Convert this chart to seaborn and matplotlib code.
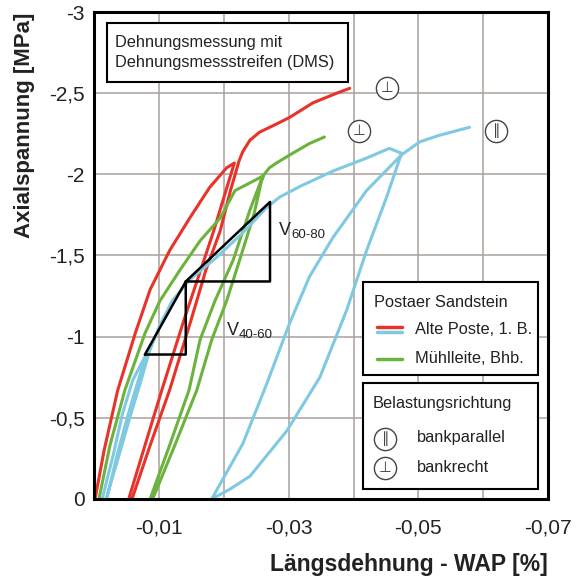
import numpy as np
import seaborn as sns
import matplotlib
matplotlib.use('Agg')
import matplotlib.pyplot as plt
from matplotlib.patches import Rectangle

# Postaer Sandstein, Alte Poste, 1. B. - senkrecht zur Bank (rot)
red_strain = [-0.0001, -0.0015, -0.0036, -0.0063, -0.0086, -0.0116, -0.0147, -0.0178, -0.0204, -0.0216,
              -0.0203, -0.0184, -0.0164, -0.0138, -0.0104, -0.0078, -0.0053,
              -0.0058, -0.0086, -0.0116, -0.0149, -0.0172, -0.0194, -0.0210, -0.0218, -0.0223, -0.0229,
              -0.0240, -0.0255, -0.0281, -0.0301, -0.0337, -0.0374, -0.0394]
red_stress = [0, -0.30, -0.67, -1.02, -1.29, -1.53, -1.73, -1.92, -2.04, -2.07,
              -1.90, -1.65, -1.41, -1.10, -0.67, -0.33, 0,
              0, -0.33, -0.67, -1.10, -1.41, -1.65, -1.90, -2.01, -2.08, -2.14,
              -2.21, -2.26, -2.31, -2.35, -2.44, -2.50, -2.53]

# Postaer Sandstein, Alte Poste, 1. B. - parallel zur Bank (blau)
blue_strain = [-0.0012, -0.0029, -0.0043, -0.0059, -0.0081,
               -0.0070, -0.0052, -0.0035, -0.0019,
               -0.0018, -0.0038, -0.0056, -0.0072, -0.0084, -0.0101, -0.0120, -0.0147, -0.0189,
               -0.0229, -0.0267, -0.0286, -0.0317, -0.0368, -0.0420, -0.0455, -0.0474,
               -0.0451, -0.0420, -0.0389, -0.0348, -0.0297, -0.0240, -0.0209, -0.0181,
               -0.0229, -0.0266, -0.0301, -0.0332, -0.0368, -0.0420, -0.0474, -0.0502, -0.0532, -0.0579]
blue_stress = [0, -0.27, -0.52, -0.73, -0.90,
               -0.76, -0.52, -0.27, 0,
               0, -0.27, -0.52, -0.73, -0.90, -1.07, -1.22, -1.35, -1.49,
               -1.64, -1.80, -1.86, -1.925, -2.02, -2.10, -2.16, -2.13,
               -1.86, -1.53, -1.16, -0.75, -0.42, -0.14, -0.06, 0,
               -0.34, -0.71, -1.08, -1.37, -1.61, -1.90, -2.12, -2.20, -2.24, -2.29]

# Muehlleite, Bhb. - senkrecht zur Bank (gruen)
green_strain = [-0.0007, -0.0024, -0.0047, -0.0078, -0.0101, -0.0132, -0.0163, -0.0194, -0.0217, -0.0251, -0.0260,
                -0.0240, -0.0214, -0.0186, -0.0163, -0.0146, -0.0116, -0.0086,
                -0.0090, -0.0124, -0.0158, -0.0181, -0.0204, -0.0224, -0.0246, -0.0258,
                -0.0262, -0.0270, -0.0281, -0.0306, -0.0332, -0.0355]
green_stress = [0, -0.33, -0.67, -1.02, -1.22, -1.41, -1.59, -1.73, -1.90, -1.97, -1.99,
                -1.78, -1.47, -1.22, -0.98, -0.67, -0.33, 0,
                0, -0.33, -0.67, -0.98, -1.22, -1.47, -1.75, -1.96,
                -2.00, -2.04, -2.07, -2.13, -2.19, -2.23]

# Sekantensteigungen V40-60 und V60-80
v40_strain = [-0.0078, -0.0141, -0.0141, -0.0078]
v40_stress = [-0.89, -1.34, -0.89, -0.89]
v60_strain = [-0.0141, -0.0271, -0.0271, -0.0141]
v60_stress = [-1.34, -1.83, -1.34, -1.34]

x_ticks = [0, -0.01, -0.02, -0.03, -0.04, -0.05, -0.06, -0.07]
x_labels = ['', '-0,01', '', '-0,03', '', '-0,05', '', '-0,07']
y_ticks = [0, -0.5, -1, -1.5, -2, -2.5, -3]
y_labels = ['0', '-0,5', '-1', '-1,5', '-2', '-2,5', '-3']

RED = '#e8332a'
BLUE = '#7fc9e2'
GREEN = '#6cb33e'
LW = 2.2

sns.set_theme(style='white')
plt.rcParams['font.family'] = ['Liberation Sans', 'DejaVu Sans']

fig = plt.figure(figsize=(5.77, 5.83), dpi=100)
ax = fig.add_axes([0.1636, 0.1441, 0.7861, 0.8353])

sns.lineplot(x=red_strain, y=red_stress, sort=False, estimator=None, color=RED, lw=LW, ax=ax)
sns.lineplot(x=green_strain, y=green_stress, sort=False, estimator=None, color=GREEN, lw=LW, ax=ax)
sns.lineplot(x=blue_strain, y=blue_stress, sort=False, estimator=None, color=BLUE, lw=LW, ax=ax)

ax.plot(v40_strain, v40_stress, color='black', lw=1.8, zorder=4)
ax.plot(v60_strain, v60_stress, color='black', lw=1.8, zorder=4)

ax.text(-0.0285, -1.624, 'V', fontsize=13, color='#222', va='baseline')
ax.text(-0.0304, -1.605, '60-80', fontsize=9.5, color='#222', va='baseline')
ax.text(-0.0205, -1.009, 'V', fontsize=13, color='#222', va='baseline')
ax.text(-0.0223, -0.990, '40-60', fontsize=9.5, color='#222', va='baseline')

ax.set_xlim(0, -0.07)
ax.set_ylim(0, -3)
ax.set_xticks(x_ticks)
ax.set_xticklabels(x_labels)
ax.set_yticks(y_ticks)
ax.set_yticklabels(y_labels)
ax.tick_params(axis='both', direction='out', length=5, width=1, color='#8a8480',
               labelsize=15, labelcolor='#222')
ax.tick_params(axis='x', pad=9)
ax.tick_params(axis='y', pad=2)
ax.grid(True, color='#a9a19c', lw=1.1)
ax.set_axisbelow(True)
for s in ax.spines.values():
    s.set_visible(True)
    s.set_color('black')
    s.set_linewidth(2.2)
ax.set_xlabel('')
ax.set_ylabel('')

fig.text(25 / 577, 1 - 13 / 583, 'Axialspannung [MPa]', rotation=90, ha='center', va='top',
         fontsize=16, fontweight='bold', color='#222')
fig.text(548 / 577, 1 - 571 / 583, 'Längsdehnung - WAP [%]', ha='right', va='baseline',
         fontsize=16.5, fontweight='bold', color='#222')


def symbol(x, y, glyph, trans, size=10.5):
    ax.plot([x], [y], marker='o', ms=16, mfc='white', mec='#444', mew=1.0,
            transform=trans, clip_on=False, zorder=7)
    ax.text(x, y, glyph, transform=trans, ha='center', va='center', fontsize=size,
            color='#444', family=['DejaVu Sans'], zorder=8)


# Kennzeichnung der Kurven
symbol(-0.0451, -2.534, '⊥', ax.transData)
symbol(-0.0408, -2.269, '⊥', ax.transData)
symbol(-0.0620, -2.269, '∥', ax.transData)

# Textbox oben links
ax.add_patch(Rectangle((0.0278, 0.856), 0.531, 0.121, transform=ax.transAxes,
                       fc='white', ec='black', lw=1.5, zorder=6))
ax.text(0.0454, 0.938, 'Dehnungsmessung mit', transform=ax.transAxes, fontsize=11.8,
        va='center', color='#222', zorder=7)
ax.text(0.0454, 0.897, 'Dehnungsmessstreifen (DMS)', transform=ax.transAxes, fontsize=11.8,
        va='center', color='#222', zorder=7)

# Legende Gestein
ax.add_patch(Rectangle((0.592, 0.2546), 0.386, 0.191, transform=ax.transAxes,
                       fc='white', ec='black', lw=1.5, zorder=6))
ax.text(0.617, 0.4045, 'Postaer Sandstein', transform=ax.transAxes, fontsize=11.8,
        va='center', color='#222', zorder=7)
ax.plot([0.623, 0.678], [0.3538, 0.3538], color=RED, lw=2.5, transform=ax.transAxes, zorder=7)
ax.plot([0.623, 0.678], [0.3435, 0.3435], color=BLUE, lw=2.5, transform=ax.transAxes, zorder=7)
ax.text(0.707, 0.349, 'Alte Poste, 1. B.', transform=ax.transAxes, fontsize=11.8,
        va='center', color='#222', zorder=7)
ax.plot([0.623, 0.678], [0.2875, 0.2875], color=GREEN, lw=2.5, transform=ax.transAxes, zorder=7)
ax.text(0.707, 0.2895, 'Mühlleite, Bhb.', transform=ax.transAxes, fontsize=11.8,
        va='center', color='#222', zorder=7)

# Legende Belastungsrichtung
ax.add_patch(Rectangle((0.592, 0.0205), 0.386, 0.2177, transform=ax.transAxes,
                       fc='white', ec='black', lw=1.5, zorder=6))
ax.text(0.614, 0.197, 'Belastungsrichtung', transform=ax.transAxes, fontsize=11.8,
        va='center', color='#222', zorder=7)
symbol(0.6406, 0.1232, '∥', ax.transAxes)
ax.text(0.711, 0.1253, 'bankparallel', transform=ax.transAxes, fontsize=11.8,
        va='center', color='#222', zorder=7)
symbol(0.6406, 0.0637, '⊥', ax.transAxes)
ax.text(0.711, 0.0637, 'bankrecht', transform=ax.transAxes, fontsize=11.8,
        va='center', color='#222', zorder=7)

fig.savefig('out.png', dpi=100)
